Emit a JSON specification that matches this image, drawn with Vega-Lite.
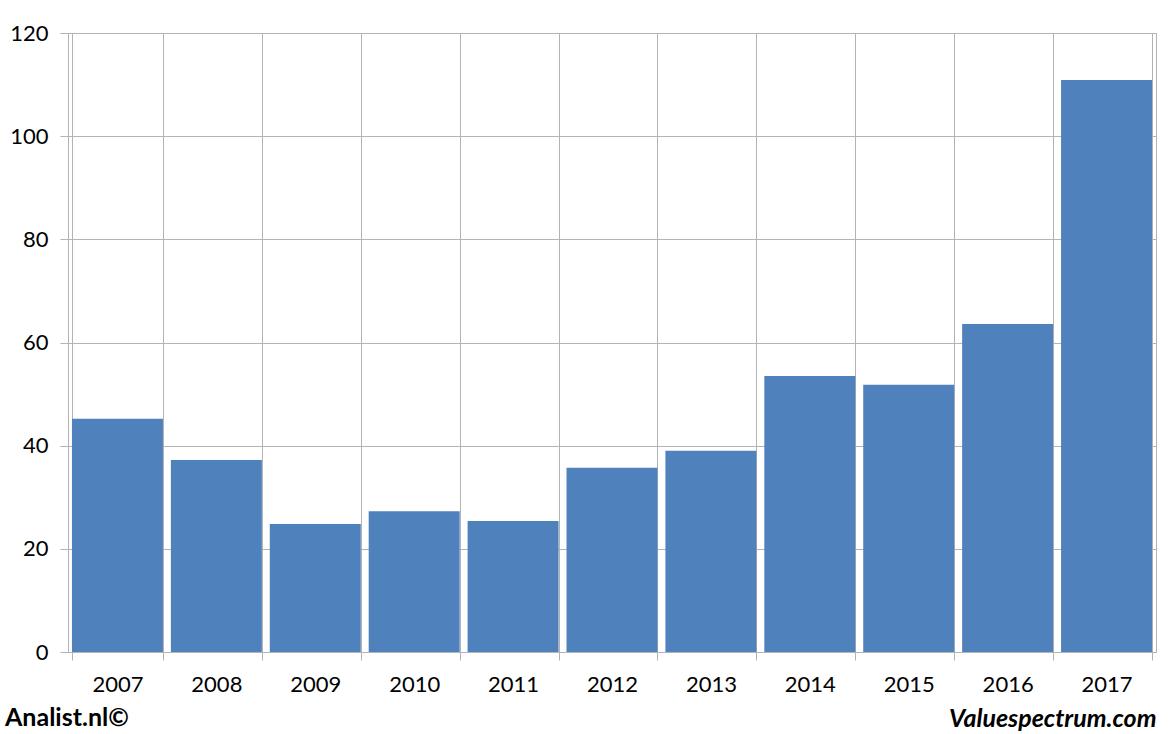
{
  "$schema": "https://vega.github.io/schema/vega-lite/v6.json",
  "autosize": {"type": "none"},
  "width": 1088,
  "height": 619,
  "padding": {"left": 68, "top": 33, "right": 16, "bottom": 82},
  "background": "#ffffff",
  "data": {"values": [
    {"year": "2007", "value": 45.2},
    {"year": "2008", "value": 37.2},
    {"year": "2009", "value": 24.8},
    {"year": "2010", "value": 27.3},
    {"year": "2011", "value": 25.4},
    {"year": "2012", "value": 35.7},
    {"year": "2013", "value": 39.0},
    {"year": "2014", "value": 53.5},
    {"year": "2015", "value": 51.8},
    {"year": "2016", "value": 63.6},
    {"year": "2017", "value": 110.9}
  ]},
  "title": {
    "text": "Analist.nl©",
    "orient": "bottom",
    "anchor": "start",
    "frame": "group",
    "font": "Lato",
    "fontSize": 25,
    "fontWeight": "bold",
    "color": "#000000",
    "offset": 0,
    "dx": -63,
    "dy": -25
  },
  "mark": {"type": "bar", "color": "#4f81bd"},
  "encoding": {
    "x": {
      "field": "year",
      "type": "ordinal",
      "scale": {"paddingInner": 0.08, "paddingOuter": 0.04},
      "axis": {
        "title": "Valuespectrum.com",
        "titleAnchor": "end",
        "titleAlign": "right",
        "titleY": 74,
        "titleBaseline": "alphabetic",
        "titleFont": "Lato",
        "titleFontSize": 25,
        "titleFontWeight": "bold",
        "titleFontStyle": "italic",
        "titleColor": "#000000",
        "labelAngle": 0,
        "labelFont": "Lato",
        "labelFontSize": 22,
        "labelColor": "#000000",
        "labelPadding": 14,
        "tickBand": "extent",
        "tickSize": 8,
        "tickColor": "#b3b3b3",
        "grid": true,
        "gridColor": "#b3b3b3",
        "gridOpacity": 1,
        "domainColor": "#b3b3b3"
      }
    },
    "y": {
      "field": "value",
      "type": "quantitative",
      "scale": {"domain": [0, 120]},
      "axis": {
        "title": null,
        "values": [0, 20, 40, 60, 80, 100, 120],
        "labelFont": "Lato",
        "labelFontSize": 22,
        "labelColor": "#000000",
        "labelPadding": 12,
        "tickSize": 8,
        "tickColor": "#b3b3b3",
        "gridColor": "#b3b3b3",
        "gridOpacity": 1,
        "domainColor": "#b3b3b3"
      }
    }
  },
  "config": {
    "view": {"stroke": "#b3b3b3"}
  }
}
